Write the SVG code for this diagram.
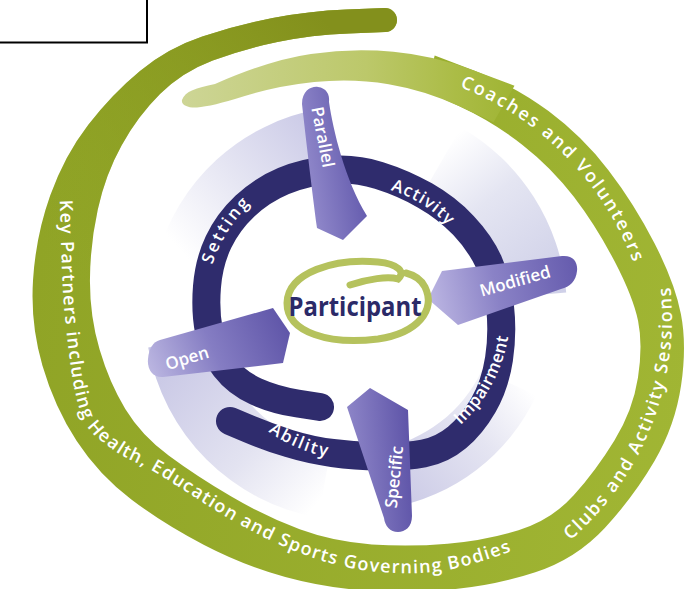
<svg xmlns="http://www.w3.org/2000/svg" width="691" height="589" viewBox="0 0 691 589">
  <defs>
    <!-- outer green spiral fills -->
    <linearGradient id="gMain" gradientUnits="userSpaceOnUse" x1="700" y1="400" x2="30" y2="300">
      <stop offset="0" stop-color="#a1b634"/>
      <stop offset="1" stop-color="#90a426"/>
    </linearGradient>
    <linearGradient id="gTop" gradientUnits="userSpaceOnUse" x1="60" y1="260" x2="320" y2="15">
      <stop offset="0" stop-color="#8b9e22" stop-opacity="0"/>
      <stop offset="1" stop-color="#83901c" stop-opacity="1"/>
    </linearGradient>
    <linearGradient id="gTail" gradientUnits="userSpaceOnUse" x1="185" y1="0" x2="515" y2="0">
      <stop offset="0" stop-color="#cdd595"/>
      <stop offset="0.55" stop-color="#bcc86a"/>
      <stop offset="0.82" stop-color="#abbc46"/>
      <stop offset="1" stop-color="#9fb433"/>
    </linearGradient>
    <!-- pale shading behind the arrows -->
    <linearGradient id="shP" gradientUnits="userSpaceOnUse" x1="325" y1="120" x2="180" y2="250">
      <stop offset="0" stop-color="#c9c8e6"/>
      <stop offset="0.55" stop-color="#e6e6f3"/>
      <stop offset="1" stop-color="#ffffff"/>
    </linearGradient>
    <linearGradient id="shM" gradientUnits="userSpaceOnUse" x1="560" y1="280" x2="450" y2="140">
      <stop offset="0" stop-color="#cfd0e8"/>
      <stop offset="0.6" stop-color="#e4e5f2"/>
      <stop offset="1" stop-color="#ffffff"/>
    </linearGradient>
    <linearGradient id="shO" gradientUnits="userSpaceOnUse" x1="160" y1="360" x2="320" y2="500">
      <stop offset="0" stop-color="#c8c7e5"/>
      <stop offset="0.6" stop-color="#e3e3f1"/>
      <stop offset="1" stop-color="#ffffff"/>
    </linearGradient>
    <linearGradient id="shS" gradientUnits="userSpaceOnUse" x1="400" y1="500" x2="530" y2="390">
      <stop offset="0" stop-color="#cbcae6"/>
      <stop offset="0.6" stop-color="#e5e5f2"/>
      <stop offset="1" stop-color="#ffffff"/>
    </linearGradient>
    <!-- arrow fills -->
    <linearGradient id="aPar" gradientUnits="userSpaceOnUse" x1="300" y1="160" x2="360" y2="150">
      <stop offset="0" stop-color="#938bcc"/>
      <stop offset="1" stop-color="#635aad"/>
    </linearGradient>
    <linearGradient id="aMod" gradientUnits="userSpaceOnUse" x1="430" y1="300" x2="576" y2="270">
      <stop offset="0" stop-color="#bbb5e2"/>
      <stop offset="0.45" stop-color="#8a82c6"/>
      <stop offset="1" stop-color="#665cae"/>
    </linearGradient>
    <linearGradient id="aOpen" gradientUnits="userSpaceOnUse" x1="150" y1="378" x2="290" y2="315">
      <stop offset="0" stop-color="#bdb8e2"/>
      <stop offset="0.45" stop-color="#857dc3"/>
      <stop offset="1" stop-color="#5c52a6"/>
    </linearGradient>
    <linearGradient id="aSpec" gradientUnits="userSpaceOnUse" x1="348" y1="460" x2="412" y2="455">
      <stop offset="0" stop-color="#8f87c9"/>
      <stop offset="1" stop-color="#5e54a8"/>
    </linearGradient>
    <!-- text baselines -->
    <path id="pCoach" d="M379.7,68.3 A300,300 0 0 1 651,342.4"/>
    <path id="pClubs" d="M517.9,576.6 A294,294 0 0 0 656.9,225.2"/>
    <path id="pKey" d="M59,150 C59.17,159.5 59,179.2 60,207 C61,234.8 61.6,282.8 65,317 C68.4,351.2 72.75,390.1 80.5,412 C88.25,433.9 98.6,438.2 111.5,448.5 C124.4,458.8 137.25,461.7 158,474 C178.75,486.3 211.5,509 236,522.5 C260.5,536 282.7,546.9 305,555 C327.3,563.1 347.4,568.3 370,571 C392.6,573.7 417.25,574.2 440.5,571 C463.75,567.8 492.1,558 509.5,552 C526.9,546 539.1,537.8 545,535"/>
    <path id="pSet" d="M205.6,297.9 A150,150 0 0 1 276.4,183.2"/>
    <path id="pAct" d="M355,185 A126,126 0 0 1 467.9,255"/>
    <path id="pAbi" d="M228.7,388.7 A148.3,148.3 0 0 0 384.8,456.3"/>
    <path id="pImp" d="M424.5,449.9 A155.3,155.3 0 0 0 509.3,293.2"/>
  </defs>
  <style>
    .band { font-family: "Open Sans", "Liberation Sans", sans-serif; font-weight: 600; font-size: 18px; fill: #ffffff; }
    .ring { font-family: "Open Sans", "Liberation Sans", sans-serif; font-weight: 600; font-size: 17px; fill: #ffffff; }
    .lbl { font-family: "Open Sans", "Liberation Sans", sans-serif; font-weight: 600; font-size: 17px; fill: #ffffff; text-anchor: middle; }
    .navy { fill: none; stroke: #2f2c6d; stroke-width: 28; stroke-linecap: round; }
  </style>

  <rect width="691" height="589" fill="#ffffff"/>

  <!-- framed box in the corner -->
  <g id="corner-box">
    <rect x="-5" y="-5" width="152" height="47.5" fill="#ffffff" stroke="#000000" stroke-width="2"/>
  </g>

  <!-- outer green spiral -->
  <g id="spiral">
    <path fill="url(#gMain)" d="M434.7,55.6 L474.6,70.7 Q514.5,85.8 548.5,111.1 Q582.5,136.4 608.45,170.2 Q634.4,204 654.6,243.45 Q674.8,282.9 680.9,313.95 Q687,345 681.1,385.35 Q675.2,425.7 654.35,461.35 Q633.5,497 604.8,527.9 Q576.1,558.8 535.3,572.2 Q494.5,585.6 452.4,589.3 Q410.3,593 368.3,590.6 Q326.3,588.2 285.3,577 Q244.3,565.8 204.1,544.95 Q163.9,524.1 131.35,499.45 Q98.8,474.8 76.7,441 Q54.6,407.2 42.4,365.45 Q30.2,323.7 33.05,279.65 Q35.9,235.6 50.2,195.6 Q64.5,155.6 88.3,124.75 Q112.1,93.9 140,70.9 Q167.9,47.9 202.3,36.45 Q236.7,25 272.65,18.05 Q308.6,11.1 346.55,9.55 L384.5,8 A12,12 0 0 1 385.5,32 L348.45,33.45 Q311.4,34.9 277.35,41.95 Q243.3,49 212.7,60.55 Q182.1,72.1 160,94.1 Q137.9,116.1 121.7,145.25 Q105.5,174.4 97.8,209.4 Q90.1,244.4 89.95,280.35 Q89.8,316.3 99.6,349.55 Q109.4,382.8 125.3,409 Q141.2,435.2 168.65,455.55 Q196.1,475.9 230.9,496.35 Q265.7,516.8 299.7,529.3 Q333.7,541.8 371.7,544.4 Q409.7,547 447.6,543.7 Q485.5,540.4 518.5,530.2 Q551.5,520 573.7,495.3 Q595.9,470.6 614.4,440.45 Q632.9,410.3 637.95,377.65 Q643,345 638.1,321.1 Q633.2,297.2 614.7,261.6 Q596.2,226 573.85,196.8 Q551.5,167.6 522.5,144.9 Q493.5,122.2 459.4,106.3 L425.3,90.4 Z"/>
    <path fill="url(#gTop)" d="M33.05,279.65 Q35.9,235.6 50.2,195.6 Q64.5,155.6 88.3,124.75 Q112.1,93.9 140,70.9 Q167.9,47.9 202.3,36.45 Q236.7,25 272.65,18.05 Q308.6,11.1 346.55,9.55 L384.5,8 A12,12 0 0 1 385.5,32 L348.45,33.45 Q311.4,34.9 277.35,41.95 Q243.3,49 212.7,60.55 Q182.1,72.1 160,94.1 Q137.9,116.1 121.7,145.25 Q105.5,174.4 97.8,209.4 Q90.1,244.4 89.95,280.35 Z"/>
    <path fill="url(#gTail)" d="M182,100 C185,91 196,88 215,84 Q269.8,59.9 310.9,53.95 Q352,48 393.35,51.8 Q434.7,55.6 474.6,70.7 L514.5,85.8 L493.5,122.2 L459.4,106.3 Q425.3,90.4 388.65,84.2 Q352,78 314.1,82.05 Q276.2,86.1 243.95,96.35 Q211.7,106.6 197,107.5 C188,108 181,105 182,100 Z"/>
    <text class="band"><textPath href="#pCoach" startOffset="50%" text-anchor="middle" textLength="254">Coaches and Volunteers</textPath></text>
    <text class="band"><textPath href="#pClubs" startOffset="50%" text-anchor="middle" textLength="283">Clubs and Activity Sessions</textPath></text>
    <text class="band"><textPath href="#pKey" startOffset="50" textLength="695">Key Partners including Health, Education and Sports Governing Bodies</textPath></text>
  </g>

  <!-- pale shading swept behind each arrow -->
  <g id="shading">
    <path fill="url(#shP)" d="M319.4,109.1 A205,205 0 0 0 157,257.9 L219.8,274.8 A140,140 0 0 1 330.7,173.1 Z"/>
    <path fill="url(#shM)" d="M566.2,292.5 A212,212 0 0 0 461,127.4 L425,189.8 A140,140 0 0 1 494.5,298.8 Z"/>
    <path fill="url(#shO)" d="M148.2,347.5 A210,210 0 0 0 318.5,517.8 L330.7,448.9 A140,140 0 0 1 217.1,335.3 Z"/>
    <path fill="url(#shS)" d="M389.7,508 A200,200 0 0 0 536.3,395.5 L481.9,370.2 A140,140 0 0 1 379.3,448.9 Z"/>
  </g>

  <!-- navy inner spiral with its four labels -->
  <g id="navy-ring">
    <path class="navy" d="M230,421 L249,429 Q268,437 289,443.5 Q310,450 332.5,453 Q355,456 380,456.5 Q405,457 423.5,453.5 Q442,450 457,437.5 Q472,425 483.5,405 Q495,385 499,359 Q503,333 500,306.5 Q497,280 488.5,261.5 Q480,243 463.5,225.5 Q447,208 425,195.5 Q403,183 379,175.5 Q355,168 330,170 Q305,172 283.5,181 Q262,190 245,206 Q228,222 218.5,242 Q209,262 207,286.5 Q205,311 209,331.5 Q213,352 225,367.5 Q237,383 256,391.5 Q275,400 297.5,403.5 L320,407"/>
    <text class="ring"><textPath href="#pSet" startOffset="50%" text-anchor="middle" textLength="72">Setting</textPath></text>
    <text class="ring"><textPath href="#pAct" startOffset="50%" text-anchor="middle" textLength="68">Activity</textPath></text>
    <text class="ring"><textPath href="#pAbi" startOffset="50%" text-anchor="middle" textLength="64">Ability</textPath></text>
    <text class="ring"><textPath href="#pImp" startOffset="50%" text-anchor="middle" textLength="102">Impairment</textPath></text>
  </g>

  <!-- the four arrows pointing at the participant -->
  <g id="arrow-parallel">
    <path fill="url(#aPar)" d="M302,104 C302,90 312,86 318,87 C326,88 330,94 329,102 C333,130 345,180 367,216 L343,240 L317,228 C312,190 306,140 302,104 Z"/>
    <text class="lbl" transform="translate(323,137) rotate(79)" dy="6">Parallel</text>
  </g>
  <g id="arrow-modified">
    <path fill="url(#aMod)" d="M442,271 L562,256 C574,255 578,263 577,271 C576,281 570,287 561,289 L458,325 L428,299 Z"/>
    <text class="lbl" transform="translate(515,281) rotate(-16)" dy="6">Modified</text>
  </g>
  <g id="arrow-open">
    <path fill="url(#aOpen)" d="M160,340 L273,308 L290,333 L283,363 L163,377 C153,378 147,370 148,359 C149,348 153,342 160,340 Z"/>
    <text class="lbl" transform="translate(187,358) rotate(-17)" dy="6">Open</text>
  </g>
  <g id="arrow-specific">
    <path fill="url(#aSpec)" d="M347,407 L370,388 L408,410 L412,516 C412,527 405,532 398,532 C390,532 385,526 384,518 Z"/>
    <text class="lbl" transform="translate(394,477) rotate(-84)" dy="6">Specific</text>
  </g>

  <!-- centre: swirl and participant -->
  <g id="participant">
    <path d="M350,285 C368,279 388,276 398,279 C406,272 398,264 378,262 C335,258 288,272 287,303 C287,333 330,345 378,339 C418,333 436,310 425,287 C421,279 414,275 406,273" fill="none" stroke="#b5c25d" stroke-width="7" stroke-linecap="round"/>
    <text x="355" y="316" font-family="Open Sans, Liberation Sans, sans-serif" font-weight="700" font-size="27" fill="#2b2a68" text-anchor="middle" textLength="133" lengthAdjust="spacingAndGlyphs">Participant</text>
  </g>
</svg>
